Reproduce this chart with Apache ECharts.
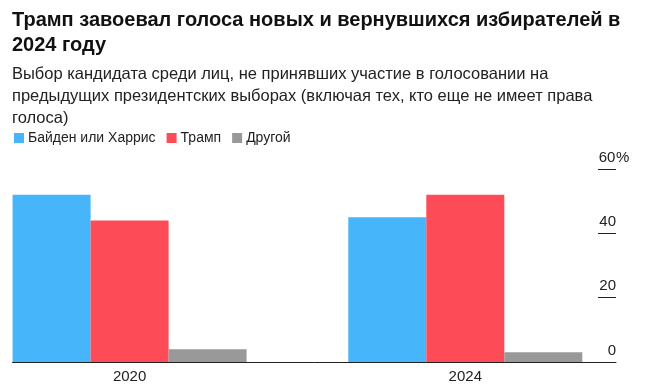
<!DOCTYPE html>
<html>
<head>
<meta charset="utf-8">
<script src="https://cdn.jsdelivr.net/npm/echarts@6/dist/echarts.min.js"></script>
<style>
  html, body { margin: 0; padding: 0; background: #fff; }
  #chart { width: 646px; height: 384px; }
</style>
</head>
<body>
<div id="chart"></div>
<script>
const categories = ['2020', '2024'];
const seriesNames = ['Байден или Харрис', 'Трамп', 'Другой'];
const bidenHarris = [52, 45];
const trump = [44, 52];
const other = [4, 3];
const yTicks = [0, 20, 40, 60];

const colors = ['#46b5f9', '#fe4b58', '#999999'];
const FONT = '"Liberation Sans", Arial, sans-serif';

const chart = echarts.init(document.getElementById('chart'), null, { renderer: 'canvas' });

function toPoints(values) {
  return values.map((v, i) => [i, v]);
}

const option = {
  animation: false,
  backgroundColor: '#ffffff',
  textStyle: { fontFamily: FONT },
  title: {
    left: 12,
    top: 8,
    text: 'Трамп завоевал голоса новых и вернувшихся избирателей в\n2024 году',
    subtext: 'Выбор кандидата среди лиц, не принявших участие в голосовании на\nпредыдущих президентских выборах (включая тех, кто еще не имеет права\nголоса)',
    itemGap: 5,
    padding: 0,
    textStyle: { fontFamily: FONT, fontSize: 20, fontWeight: 'bold', color: '#111', lineHeight: 25 },
    subtextStyle: { fontFamily: FONT, fontSize: 16.5, color: '#222', lineHeight: 22 }
  },
  legend: {
    left: 14,
    top: 131,
    padding: 0,
    itemWidth: 10,
    itemHeight: 10,
    itemGap: 11,
    icon: 'rect',
    textStyle: { fontFamily: FONT, fontSize: 14, color: '#222', padding: [0, 0, 0, -1] },
    data: seriesNames
  },
  grid: { left: 12.5, right: 30, top: 169, bottom: 19, containLabel: false },
  xAxis: {
    type: 'value',
    min: -0.3488,
    max: 1.4489,
    splitLine: { show: false },
    axisTick: { show: false },
    axisLine: { show: true, onZero: false, lineStyle: { color: '#222', width: 1 } },
    axisLabel: {
      customValues: [0, 1],
      formatter: v => categories[Math.round(v)] || '',
      fontFamily: FONT,
      fontSize: 15,
      color: '#222',
      margin: 7
    }
  },
  yAxis: {
    type: 'value',
    position: 'right',
    offset: -18,
    min: 0,
    max: 60,
    interval: 20,
    splitLine: { show: false },
    axisLine: { show: false, onZero: false },
    axisTick: { show: true, inside: false, length: 18, lineStyle: { color: '#222', width: 1 } },
    axisLabel: {
      inside: false,
      margin: 0,
      align: 'left',
      verticalAlign: 'bottom',
      padding: [0, 0, 4, 0],
      fontFamily: FONT,
      fontSize: 15,
      color: '#222',
      formatter: v => (v === yTicks[yTicks.length - 1] ? '{n|' + v + '}{p|%}' : '{n|' + v + '}'),
      rich: {
        n: { fontFamily: FONT, fontSize: 15, color: '#222', width: 18, align: 'right' },
        p: { fontFamily: FONT, fontSize: 15, color: '#222' }
      }
    }
  },
  series: [
    { name: seriesNames[0], type: 'bar', data: toPoints(bidenHarris), barWidth: 78, barGap: '0%', itemStyle: { color: colors[0] } },
    { name: seriesNames[1], type: 'bar', data: toPoints(trump), barWidth: 78, barGap: '0%', itemStyle: { color: colors[1] } },
    { name: seriesNames[2], type: 'bar', data: toPoints(other), barWidth: 78, barGap: '0%', itemStyle: { color: colors[2] } }
  ]
};

chart.setOption(option);
</script>
</body>
</html>
